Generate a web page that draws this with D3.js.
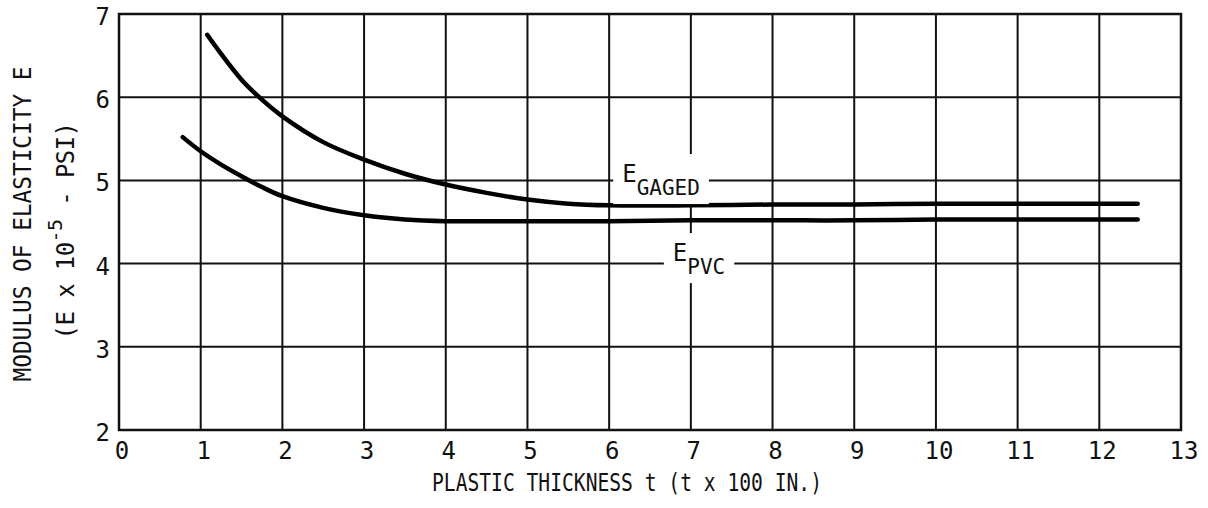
<!DOCTYPE html>
<html>
<head>
<meta charset="utf-8">
<script src="https://cdn.jsdelivr.net/npm/d3@7"></script>
<style>
  body { margin: 0; background: #fff; }
  text { font-family: "DejaVu Sans Mono", monospace; fill: #111; }
</style>
</head>
<body>
<div id="viz"></div>
<script>
// data
var xTicks = [0, 1, 2, 3, 4, 5, 6, 7, 8, 9, 10, 11, 12, 13];
var yTicks = [2, 3, 4, 5, 6, 7];

var tGaged = [1.08, 1.25, 1.5, 1.75, 2, 2.5, 3, 3.5, 4, 4.5, 5, 5.5, 6, 7, 8, 9, 10, 11, 12, 12.47];
var eGaged = [6.75, 6.52, 6.21, 5.97, 5.77, 5.46, 5.25, 5.08, 4.95, 4.85, 4.77, 4.72, 4.70, 4.70, 4.71, 4.71, 4.72, 4.72, 4.72, 4.72];

var tPvc = [0.78, 1, 1.25, 1.5, 1.75, 2, 2.5, 3, 3.5, 4, 5, 6, 7, 8, 9, 10, 11, 12, 12.47];
var ePvc = [5.52, 5.35, 5.19, 5.05, 4.92, 4.81, 4.67, 4.58, 4.53, 4.51, 4.51, 4.51, 4.52, 4.52, 4.52, 4.53, 4.53, 4.53, 4.53];

var curveNames = ["GAGED", "PVC"];
var labelT = [6.16, 6.78];
var labelE = [4.98, 4.03];

var xTitle = "PLASTIC THICKNESS t (t x 100 IN.)";
var yTitle1 = "MODULUS OF ELASTICITY E";

width = 1208;
height = 508;

var x = d3.scaleLinear().domain([0, 13]).range([119, 1181]);
var y = d3.scaleLinear().domain([2, 7]).range([430, 14]);

var svg = d3.select("#viz").append("svg")
  .attr("width", width)
  .attr("height", height);

// grid
svg.append("g").selectAll("line").data(xTicks.slice(1, -1)).enter().append("line")
  .attr("x1", function(d) { return x(d); })
  .attr("x2", function(d) { return x(d); })
  .attr("y1", y(7))
  .attr("y2", y(2))
  .attr("stroke", "#111")
  .attr("stroke-width", 2);

svg.append("g").selectAll("line").data(yTicks.slice(1, -1)).enter().append("line")
  .attr("x1", x(0))
  .attr("x2", x(13))
  .attr("y1", function(d) { return y(d); })
  .attr("y2", function(d) { return y(d); })
  .attr("stroke", "#111")
  .attr("stroke-width", 2);

// labels with white knock-out boxes
var labelG = svg.append("g");
var labels = labelG.selectAll("g").data(curveNames).enter().append("g");
var labelText = labels.append("text")
  .attr("x", function(d, i) { return x(labelT[i]); })
  .attr("y", function(d, i) { return y(labelE[i]); })
  .style("font-size", "24px");
labelText.append("tspan").text("E");
labelText.append("tspan")
  .attr("dy", 13)
  .style("font-size", "21px")
  .text(function(d) { return d; });

labels.each(function() {
  var g = d3.select(this);
  var b = g.select("text").node().getBBox();
  g.insert("rect", "text")
    .attr("x", b.x - 9)
    .attr("y", b.y - 6)
    .attr("width", b.width + 18)
    .attr("height", b.height + 10)
    .attr("fill", "#fff");
});

// curves
var line = d3.line()
  .x(function(d) { return x(d[0]); })
  .y(function(d) { return y(d[1]); })
  .curve(d3.curveCatmullRom.alpha(0.5));

svg.append("path")
  .datum(d3.zip(tGaged, eGaged))
  .attr("d", line)
  .attr("fill", "none")
  .attr("stroke", "#000")
  .attr("stroke-width", 4.5)
  .attr("stroke-linecap", "round");

svg.append("path")
  .datum(d3.zip(tPvc, ePvc))
  .attr("d", line)
  .attr("fill", "none")
  .attr("stroke", "#000")
  .attr("stroke-width", 4.5)
  .attr("stroke-linecap", "round");

// frame
svg.append("rect")
  .attr("x", x(0))
  .attr("y", y(7))
  .attr("width", x(13) - x(0))
  .attr("height", y(2) - y(7))
  .attr("fill", "none")
  .attr("stroke", "#111")
  .attr("stroke-width", 2.5);

labelG.raise();

// tick labels
svg.append("g").selectAll("text").data(xTicks).enter().append("text")
  .attr("x", function(d) { return x(d) + 3; })
  .attr("y", 459)
  .attr("text-anchor", "middle")
  .style("font-size", "24px")
  .text(function(d) { return d; });

svg.append("g").selectAll("text").data(yTicks).enter().append("text")
  .attr("x", 110)
  .attr("y", function(d) { return y(d) + 11; })
  .attr("text-anchor", "end")
  .style("font-size", "24px")
  .text(function(d) { return d; });

// axis titles
svg.append("text")
  .attr("x", 627)
  .attr("y", 491)
  .attr("text-anchor", "middle")
  .attr("textLength", 390)
  .attr("lengthAdjust", "spacingAndGlyphs")
  .style("font-size", "25px")
  .text(xTitle);

svg.append("text")
  .attr("transform", "translate(31,224) rotate(-90)")
  .attr("text-anchor", "middle")
  .attr("textLength", 315)
  .attr("lengthAdjust", "spacingAndGlyphs")
  .style("font-size", "25px")
  .text(yTitle1);

var t2 = svg.append("text")
  .attr("transform", "translate(74,231) rotate(-90)")
  .attr("text-anchor", "middle")
  .style("font-size", "24px")
  .style("letter-spacing", "-0.6px");
t2.append("tspan").text("(E x 10");
t2.append("tspan").attr("dy", -12).style("font-size", "20px").text("-5");
t2.append("tspan").attr("dy", 12).text(" - PSI)");
</script>
</body>
</html>
